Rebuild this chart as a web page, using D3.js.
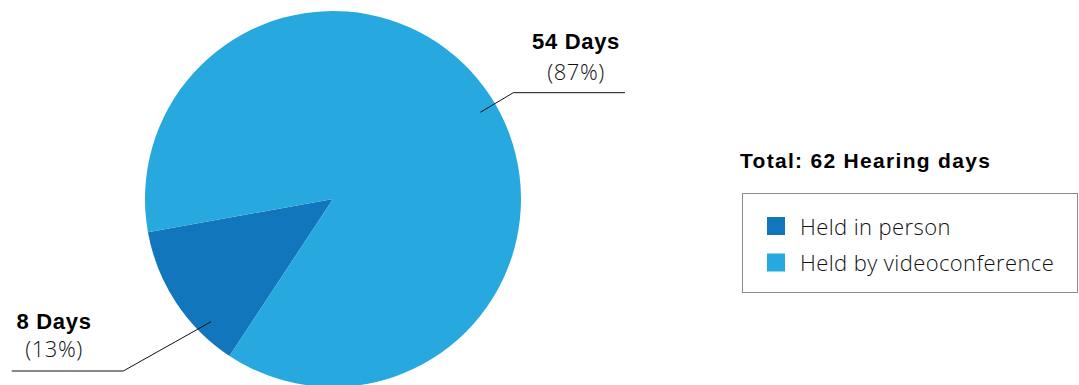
<!DOCTYPE html>
<html>
<head>
<meta charset="utf-8">
<script src="https://cdn.jsdelivr.net/npm/d3@7"></script>
<style>
  html, body { margin: 0; padding: 0; background: #fff; }
  svg { display: block; }
  .bold { font-family: "Liberation Sans", Arial, sans-serif; font-weight: bold; fill: #000; }
  .light { font-family: "Open Sans", "Liberation Sans", sans-serif; font-weight: 300; fill: #111; }
</style>
</head>
<body>
<svg id="chart" width="1079" height="385"></svg>
<script>
// ---- data ----
const categories = ["Held in person", "Held by videoconference"];
const days = [8, 54];
const percentLabels = ["(13%)", "(87%)"];
const dayLabels = ["8 Days", "54 Days"];
const colors = ["#1176bb", "#27a9e0"];
const totalTitle = "Total: 62 Hearing days";

// ---- layout ----
const W = 1079, H = 385;
const cx = 333, cy = 199, R = 188;
const startDeg = 213.4;

const svg = d3.select("#chart");
svg.append("rect").attr("width", W).attr("height", H).attr("fill", "#fff");

const data = categories.map((c, i) => ({ cat: c, value: days[i], color: colors[i], dl: dayLabels[i], pl: percentLabels[i] }));

const pie = d3.pie().sort(null).value(d => d.value)
  .startAngle(startDeg * Math.PI / 180)
  .endAngle(startDeg * Math.PI / 180 + 2 * Math.PI);
const arcs = pie(data);
const arc = d3.arc().innerRadius(0).outerRadius(R);

const g = svg.append("g").attr("transform", `translate(${cx},${cy})`);
g.selectAll("path.slice").data(arcs).enter().append("path")
  .attr("class", "slice")
  .attr("d", arc)
  .attr("fill", d => d.data.color);

// leader lines & labels (layout offsets per slice)
const labelLayout = [
  { angOff: -11.8, r: 173, elbow: [123.3, 371], end: 11.7, tx: 54, ty1: 329, ty2: 357 },
  { angOff: 2.9, r: 171, elbow: [513.3, 92.7], end: 625, tx: 576, ty1: 49, ty2: 80 }
];

arcs.forEach((a, i) => {
  const L = labelLayout[i];
  const mid = (a.startAngle + a.endAngle) / 2 + L.angOff * Math.PI / 180;
  const p = d3.pointRadial(mid, L.r);
  const x0 = cx + p[0], y0 = cy + p[1];
  svg.append("polyline")
    .attr("points", `${x0},${y0} ${L.elbow[0]},${L.elbow[1]} ${L.end},${L.elbow[1]}`)
    .attr("fill", "none").attr("stroke", "#111").attr("stroke-width", 1);
  svg.append("text").attr("class", "bold")
    .attr("x", L.tx).attr("y", L.ty1).attr("text-anchor", "middle")
    .style("font-size", "22px").style("letter-spacing", "0.7px")
    .text(a.data.dl);
  svg.append("text").attr("class", "light")
    .attr("x", L.tx).attr("y", L.ty2).attr("text-anchor", "middle")
    .style("font-size", "22px").style("letter-spacing", "0.5px")
    .text(a.data.pl);
});

// title
svg.append("text").attr("class", "bold")
  .attr("x", 740).attr("y", 168)
  .style("font-size", "21px").style("letter-spacing", "1.3px")
  .text(totalTitle);

// legend
const lg = svg.append("g");
lg.append("rect").attr("x", 742.5).attr("y", 193.5).attr("width", 335).attr("height", 99)
  .attr("fill", "none").attr("stroke", "#8a8a8a").attr("stroke-width", 1);
const rowY = [217, 253.5];
data.forEach((d, i) => {
  lg.append("rect").attr("x", 767).attr("y", rowY[i]).attr("width", 18).attr("height", 18).attr("fill", d.color);
  lg.append("text").attr("class", "light")
    .attr("x", 800).attr("y", rowY[i] + 17.5)
    .style("font-size", "22px").style("letter-spacing", "0.4px")
    .text(d.cat);
});
</script>
</body>
</html>
